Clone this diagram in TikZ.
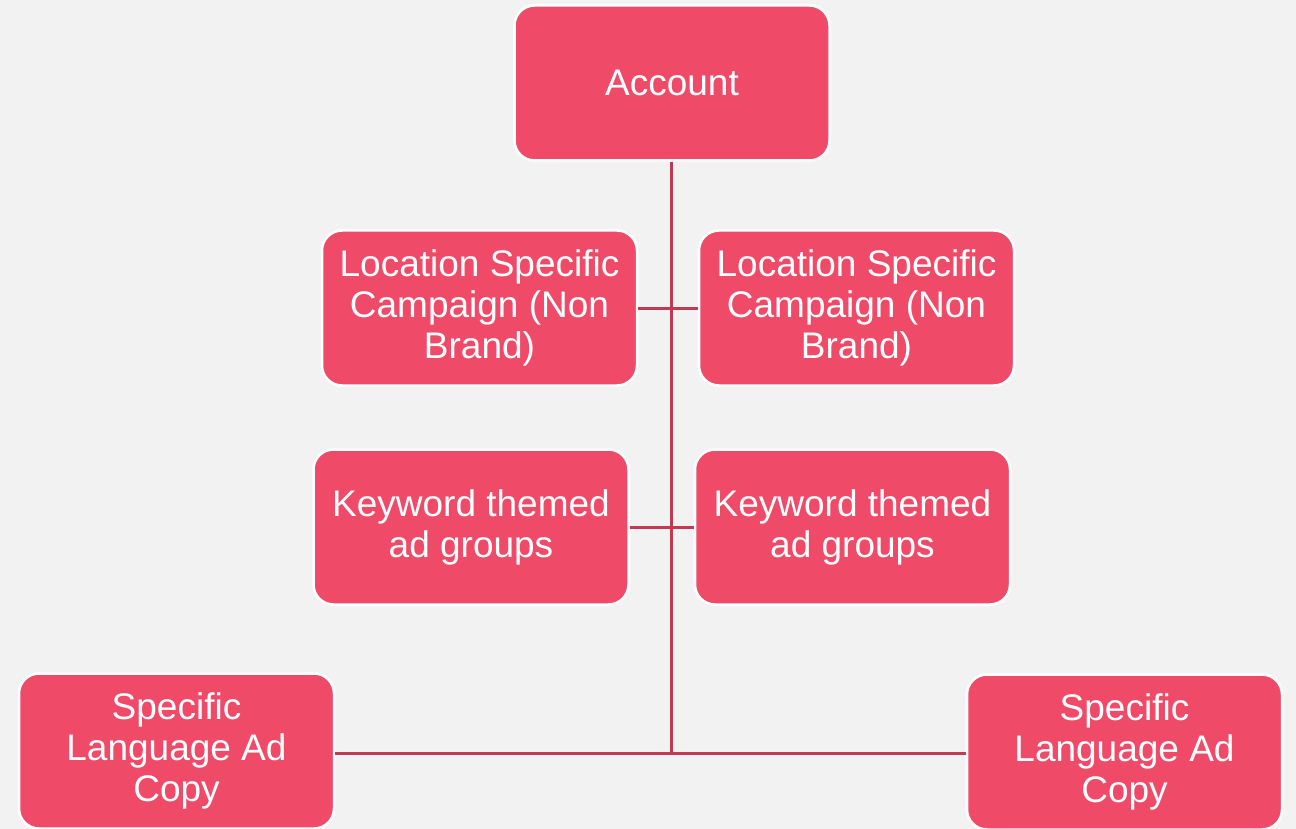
\documentclass[tikz,border=0pt]{standalone}
\usepackage{fontspec}
\setmainfont{Liberation Sans}
\definecolor{pagebg}{HTML}{F2F2F2}
\definecolor{boxfill}{HTML}{EF4A68}
\definecolor{linkcol}{HTML}{C23A52}
\begin{document}
\begin{tikzpicture}[x=1pt,y=-1pt,
  box/.style={draw=white, line width=2.5pt, fill=boxfill, rounded corners=20pt,
    minimum width=315pt, minimum height=155pt, inner sep=0pt,
    text=white, align=center,
    font=\fontsize{37}{41}\selectfont},
  link/.style={draw=linkcol, line width=3pt}]
  \useasboundingbox[fill=pagebg] (0,0) rectangle (1296,829);

  \node[box] (acc)  at (672,83)    {Account};
  \node[box] (locL) at (479.5,308) {Location Specific\\Campaign (Non\\Brand)};
  \node[box] (locR) at (856.5,308) {Location Specific\\Campaign (Non\\Brand)};
  \node[box] (kwL)  at (471,527)   {Keyword themed\\ad groups};
  \node[box] (kwR)  at (852.5,527) {Keyword themed\\ad groups};
  \node[box] (lnL)  at (176.5,751) {Specific\\Language Ad\\Copy};
  \node[box] (lnR)  at (1124.5,752){Specific\\Language Ad\\Copy};

  % trunk and its branch points
  \coordinate (j1) at (671,308);
  \coordinate (j2) at (671,527);
  \coordinate (j3) at (671,753);

  \draw[link] (acc.south -| j3) -- (j3);
  \draw[link] (locL.east) -- (j1) -- (locR.west);
  \draw[link] (kwL.east) -- (j2) -- (kwR.west);
  \draw[link] (lnL.east |- j3) -- (j3) -- (lnR.west |- j3);
\end{tikzpicture}
\end{document}
